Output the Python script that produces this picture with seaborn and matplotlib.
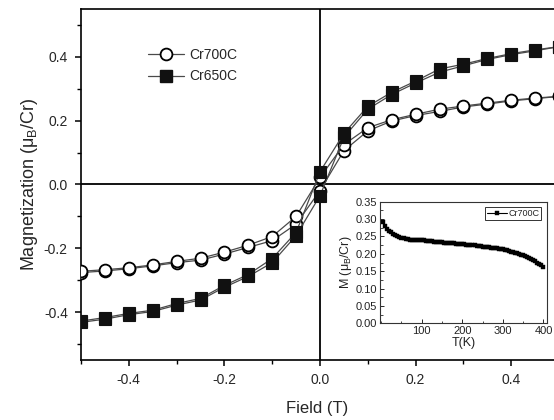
import matplotlib
matplotlib.use("Agg")
import matplotlib.pyplot as plt
from matplotlib.lines import Line2D
from matplotlib.ticker import MultipleLocator
import seaborn as sns
import numpy as np

# ---- data ----
field = [-0.5, -0.45, -0.4, -0.35, -0.3, -0.25, -0.2, -0.15, -0.1, -0.05, 0.0,
         0.05, 0.1, 0.15, 0.2, 0.25, 0.3, 0.35, 0.4, 0.45, 0.5]

cr700_down = [-0.272, -0.267, -0.261, -0.252, -0.241, -0.231, -0.212, -0.190, -0.163, -0.100, 0.022,
              0.125, 0.178, 0.203, 0.220, 0.236, 0.246, 0.255, 0.264, 0.271, 0.276]
cr700_up = [-0.276, -0.271, -0.264, -0.255, -0.245, -0.237, -0.218, -0.197, -0.176, -0.124, -0.019,
            0.106, 0.168, 0.199, 0.216, 0.229, 0.243, 0.252, 0.262, 0.269, 0.276]

cr650_down = [-0.428, -0.417, -0.404, -0.394, -0.373, -0.357, -0.316, -0.282, -0.232, -0.150, 0.040,
              0.160, 0.245, 0.289, 0.324, 0.362, 0.377, 0.395, 0.410, 0.422, 0.432]
cr650_up = [-0.432, -0.422, -0.408, -0.398, -0.378, -0.362, -0.322, -0.288, -0.245, -0.160, -0.035,
            0.148, 0.236, 0.282, 0.318, 0.352, 0.372, 0.392, 0.407, 0.419, 0.432]

temp_K = [5, 10, 15, 20, 25, 30, 35, 40, 45, 50, 55, 60, 65, 70, 75, 80, 85, 90, 95, 100,
          105, 110, 115, 120, 125, 130, 135, 140, 145, 150, 155, 160, 165, 170, 175, 180, 185, 190, 195, 200,
          205, 210, 215, 220, 225, 230, 235, 240, 245, 250, 255, 260, 265, 270, 275, 280, 285, 290, 295, 300,
          305, 310, 315, 320, 325, 330, 335, 340, 345, 350, 355, 360, 365, 370, 375, 380, 385, 390, 395, 400]
m_T = [0.292, 0.280, 0.272, 0.266, 0.262, 0.258, 0.254, 0.251, 0.248, 0.246, 0.245, 0.243, 0.242, 0.241,
       0.241, 0.241, 0.241, 0.241, 0.240, 0.240, 0.239, 0.238, 0.238, 0.237, 0.236, 0.235, 0.235, 0.234,
       0.233, 0.233, 0.232, 0.232, 0.231, 0.231, 0.230, 0.230, 0.229, 0.229, 0.228, 0.228, 0.227, 0.226,
       0.226, 0.225, 0.224, 0.224, 0.223, 0.222, 0.222, 0.221, 0.220, 0.220, 0.219, 0.218, 0.218, 0.217,
       0.216, 0.215, 0.214, 0.213, 0.211, 0.210, 0.208, 0.206, 0.205, 0.203, 0.201, 0.199, 0.197, 0.196,
       0.193, 0.190, 0.187, 0.184, 0.181, 0.178, 0.175, 0.171, 0.167, 0.163]

labels = ["Cr700C", "Cr650C"]
xticks = [-0.4, -0.2, 0.0, 0.2, 0.4]
yticks = [-0.4, -0.2, 0.0, 0.2, 0.4]

# ---- style ----
sns.set_style("ticks")
plt.rcParams['font.family'] = ['Liberation Sans', 'DejaVu Sans']
plt.rcParams['mathtext.fontset'] = 'custom'
plt.rcParams['mathtext.rm'] = 'Liberation Sans'
plt.rcParams['mathtext.it'] = 'Liberation Sans'

fig = plt.figure(figsize=(5.54, 4.2), dpi=100)
ax = fig.add_axes([81/554, 60/420, (554-81)/554, 351/420])

line_col = '#4a4a4a'
for vals in (cr700_up, cr700_down):
    sns.lineplot(x=field, y=vals, sort=False, ax=ax, color=line_col, lw=0.9,
                 marker='o', markersize=8.5, markerfacecolor='white',
                 markeredgecolor='black', markeredgewidth=1.3, zorder=3)
for vals in (cr650_up, cr650_down):
    sns.lineplot(x=field, y=vals, sort=False, ax=ax, color=line_col, lw=0.9,
                 marker='s', markersize=8.3, markerfacecolor='#111111',
                 markeredgecolor='#111111', markeredgewidth=0.8, zorder=4)

ax.axhline(0, color='black', lw=1.3, zorder=2)
ax.axvline(0, color='black', lw=1.3, zorder=2)

ax.set_xlim(-0.5, 0.4895)
ax.set_ylim(-0.55, 0.55)
ax.set_xticks(xticks)
ax.set_xticklabels([f"{v:.1f}" for v in xticks])
ax.set_yticks(yticks)
ax.set_yticklabels([f"{v:.1f}" for v in yticks])
ax.xaxis.set_minor_locator(MultipleLocator(0.1))
ax.yaxis.set_minor_locator(MultipleLocator(0.1))
ax.tick_params(which='major', direction='out', length=4.5, width=1.1, labelsize=10, pad=5, color='black')
ax.tick_params(which='minor', direction='out', length=3, width=1.0, color='black')
ax.spines['right'].set_visible(False)
for s in ('left', 'bottom', 'top'):
    ax.spines[s].set_linewidth(1.2)
    ax.spines[s].set_color('black')
ax.set_xlabel("Field (T)", fontsize=12, labelpad=10)
ax.set_ylabel(r"Magnetization ($\mu_B$/Cr)", fontsize=13, labelpad=3)

handles = [
    Line2D([], [], color=line_col, lw=0.9, marker='o', markersize=8.5, markerfacecolor='white',
           markeredgecolor='black', markeredgewidth=1.3),
    Line2D([], [], color=line_col, lw=0.9, marker='s', markersize=8.3, markerfacecolor='#111111',
           markeredgecolor='#111111'),
]
ax.legend(handles, labels, loc='upper left', bbox_to_anchor=(0.115, 0.925), frameon=False,
          fontsize=10, handlelength=2.6, handletextpad=0.4, labelspacing=0.55)

# ---- inset ----
axi = fig.add_axes([380/554, (420-323.3)/420, 166.7/554, 121.6/420])
sns.lineplot(x=temp_K, y=m_T, ax=axi, color='black', lw=0.8, marker='s', markersize=2.8,
             markeredgecolor='black', markeredgewidth=0.3, label='Cr700C')
axi.set_xlim(-3, 408)
axi.set_ylim(0, 0.35)
axi.set_xticks([100, 200, 300, 400])
axi.set_yticks([0.0, 0.05, 0.10, 0.15, 0.20, 0.25, 0.30, 0.35])
axi.set_yticklabels([f"{v:.2f}" for v in [0.0, 0.05, 0.10, 0.15, 0.20, 0.25, 0.30, 0.35]])
axi.xaxis.set_minor_locator(MultipleLocator(50))
axi.yaxis.set_minor_locator(MultipleLocator(0.025))
axi.tick_params(which='major', direction='in', length=3, width=0.7, labelsize=8, pad=2,
                labelcolor='#222222')
axi.tick_params(which='minor', direction='in', length=1.8, width=0.6)
for s in axi.spines.values():
    s.set_linewidth(0.8)
    s.set_color('#333333')
axi.set_xlabel("T(K)", fontsize=9, labelpad=0.5, color='#222222')
axi.set_ylabel(r"M ($\mu_B$/Cr)", fontsize=9, labelpad=1, color='#222222')
leg = axi.legend(loc='upper right', frameon=True, fancybox=False, edgecolor='black',
                 fontsize=6.5, handlelength=2.2, borderpad=0.2, handletextpad=0.2,
                 borderaxespad=0.6)
leg.get_frame().set_linewidth(0.7)

fig.savefig("out.png", dpi=100, facecolor='white')
